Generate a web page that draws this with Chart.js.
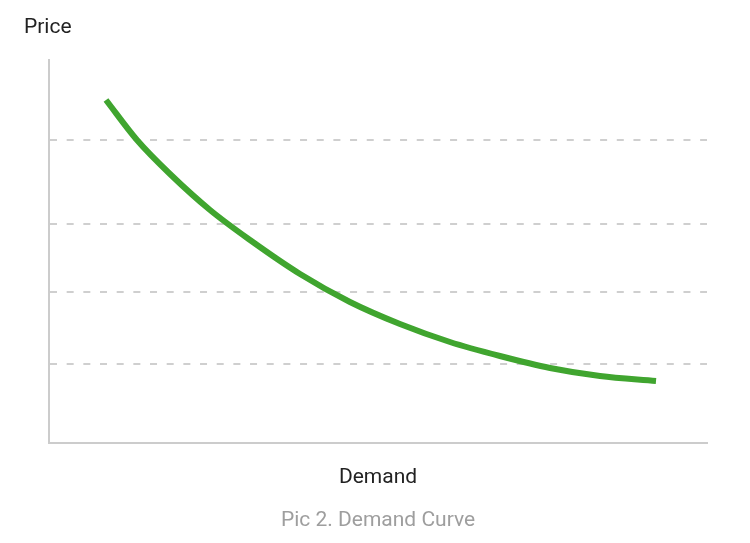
<!DOCTYPE html>
<html>
<head>
<meta charset="utf-8">
<script src="https://cdn.jsdelivr.net/npm/chart.js@4.4.0/dist/chart.umd.min.js"></script>
<style>
html,body{margin:0;padding:0;background:#fff;}
#wrap{width:750px;height:543px;position:relative;}
</style>
</head>
<body>
<div id="wrap"><canvas id="c"></canvas></div>
<script>
// Demand (x) and price (y) in arbitrary 0-100 units
const demand = [8.66, 13.37, 18.39, 24.47, 30.55, 38.15, 45.74, 53.34, 60.94, 68.54, 76.14, 83.74, 92.25];
const price  = [89.44, 79.01, 70.14, 60.76, 52.93, 44.07, 36.77, 31.03, 26.34, 22.69, 19.56, 17.47, 16.17];
// Price levels where dashed guide lines are drawn
const priceGuides = [20.6, 39.4, 57.1, 79.0];
const yTitle = 'Price';
const xTitle = 'Demand';
const caption = 'Pic 2. Demand Curve';

const points = demand.map((d, i) => ({x: d, y: price[i]}));
const FONT = 'Roboto';

new Chart(document.getElementById('c'), {
  type: 'line',
  data: {
    datasets: [{
      data: points,
      borderColor: '#40a52f',
      borderWidth: 6,
      pointRadius: 0,
      cubicInterpolationMode: 'monotone',
      fill: false
    }]
  },
  options: {
    responsive: true,
    maintainAspectRatio: false,
    animation: false,
    layout: {padding: {left: 24, right: 43, top: 0, bottom: 0}},
    plugins: {
      legend: {display: false},
      tooltip: {enabled: false},
      title: {
        display: true,
        text: yTitle,
        align: 'start',
        color: '#222222',
        font: {family: FONT, size: 21, weight: 'normal', lineHeight: 1.2},
        padding: {top: 15.2, bottom: 19.1}
      },
      subtitle: {
        display: true,
        fullSize: false,
        position: 'bottom',
        text: caption,
        color: '#9e9e9e',
        font: {family: FONT, size: 21, weight: 'normal', lineHeight: 1.2},
        padding: {top: 17.6, bottom: 9.8}
      }
    },
    scales: {
      x: {
        type: 'linear',
        min: 0,
        max: 100,
        grid: {display: false, drawTicks: false},
        border: {display: true, color: '#cccccc', width: 2},
        ticks: {display: false},
        title: {
          display: true,
          text: xTitle,
          color: '#222222',
          font: {family: FONT, size: 21, weight: 'normal', lineHeight: 1.2},
          padding: {top: 22.2, bottom: 0}
        }
      },
      y: {
        type: 'linear',
        min: 0,
        max: 100,
        afterBuildTicks: (scale) => { scale.ticks = priceGuides.map(v => ({value: v})); },
        afterFit: (scale) => { scale.width = 25; },
        grid: {display: true, drawTicks: false, color: '#cfcfcf', lineWidth: 2},
        border: {display: true, color: '#cccccc', width: 2, dash: [7, 9.67]},
        ticks: {display: false}
      }
    }
  }
});
</script>
</body>
</html>
